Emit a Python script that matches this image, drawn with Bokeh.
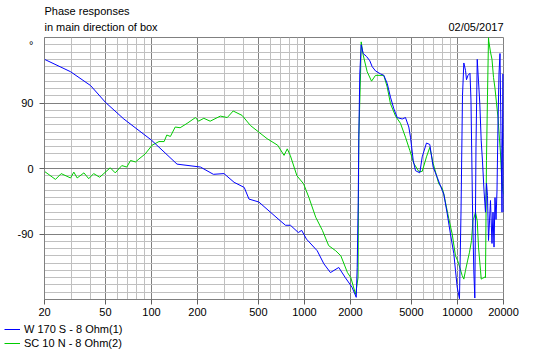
from bokeh.plotting import figure
from bokeh.layouts import column
from bokeh.models import (FixedTicker, CustomJSTickFormatter, Range1d, Label,
                          Legend, LegendItem)
from bokeh.embed import file_html
from bokeh.resources import INLINE

# ---------------- data ----------------
freq_w170 = [20, 29.6, 40, 50, 66, 100, 147, 209, 254, 298, 347, 404, 434, 503,
             696, 752, 810, 912, 959, 1031, 1212, 1340, 1479, 1676, 1850, 2045, 2180,
             2212, 2246, 2266, 2300, 2350, 2420, 2545, 2675, 2770, 2915, 3140, 3300,
             3475, 3650, 3840, 4040, 4355, 4575, 4810, 4935, 5140, 5320, 5675, 5885,
             6275, 6595, 6940, 7370, 7950, 8140, 8570, 9000, 9470, 9710, 9960, 10310,
             10550, 10790, 11010, 11290, 11460, 11720, 12080, 12260, 12540, 12790,
             12990, 13220, 13470, 13730, 14000, 14300, 14580, 14910, 15250, 15480,
             15720, 15960, 16200, 16440, 16820, 17080, 17340, 17600, 17870, 18140,
             18410, 18690, 18970, 19320, 19550, 19850, 20000]
phase_w170 = [150, 133, 114, 91, 68, 39, 6, 2, -8, -7, -19, -26, -42, -46,
              -72, -78, -78, -88, -85, -97, -113, -131, -143, -136, -150, -163, -177,
              -136, -47, 40, 130, 170, 158, 154, 148, 140, 134, 130, 128,
              117, 98, 82, 70, 68, 70, 57, 43, 11, -3, -6, 16,
              35, 33, 2, -12, -30, -35, -62, -90, -117, -140, -163, -179,
              -60, 100, 145, 135, 122, 128, 131, 94, -50, -140,
              -178, 30, 150, 120, 89, 38, 10, -30, -60, -20,
              -37, -99, -72, -44, -103, -60, -108, -40, -70, -30,
              60, 130, 158, 27, -60, 130, -60]

freq_sc10 = [20, 23.6, 25.7, 29.6, 31.1, 32.7, 36.2, 38.9, 41.9, 45.9, 53.8, 58,
             64, 69, 73, 78.7, 82.8, 91, 101, 112, 121, 126, 133, 143, 154, 171,
             194, 203, 220, 242, 282, 313, 342, 391, 444, 503, 570, 668, 736, 772,
             808, 893, 987, 1070, 1185, 1310, 1440, 1600, 1730, 1910, 2010, 2160,
             2240, 2266, 2327, 2350, 2420, 2570, 2745, 2915, 3300, 3475, 3650, 3940,
             4245, 4575, 4880, 5185, 5590, 5885, 6275, 6595, 6940, 7550, 7950,
             8140, 8780, 9240, 9710, 10050, 10740, 11010, 11290, 11640, 11990,
             12360, 12640, 12790, 13120, 13470, 13730, 14150, 14300, 14580, 15140,
             15250, 15480, 15720, 15960, 16030, 16440, 16820, 17210, 17600, 18000,
             18410, 18690, 19120, 19400, 19700, 20000]
phase_sc10 = [-4, -15, -7, -13, -5, -13, -6, -14, -7, -12, 1, -6,
              4, 2, 11, 9, 13, 20, 32, 37, 37, 46, 44, 57, 56, 62,
              70, 65, 69, 65, 72, 70, 79, 73, 59, 50, 41, 32, 18, 27,
              18, -10, -21, -40, -67, -85, -106, -113, -120, -143, -150, -173,
              -150, 43, 130, 174, 156, 133, 120, 128, 128, 112, 89, 72,
              62, 43, 25, 7, -4, -4, 16, 29, 7, -21, -27,
              -35, -69, -90, -120, -127, -147, -152, -140, -127, -115,
              -99, -70, -69, -60, -72, -108, -140, -152, -151, -149,
              -150, 11, 100, 180, 175, 160, 150, 125, 110, 90,
              70, 50, 20, -7, -25, -35]

x_major = [20, 50, 100, 200, 500, 1000, 2000, 5000, 10000, 20000]
x_minor = [30, 40, 60, 70, 80, 90, 300, 400, 600, 700, 800, 900,
           3000, 4000, 6000, 7000, 8000, 9000]
y_major = [-90, 0, 90]
y_minor = [v for v in range(-170, 180, 10) if v not in (-90, 0, 90)]
y_unit_tick = 170
y_unit = "°"

title1 = "Phase responses"
title2 = "in main direction of box"
date_text = "02/05/2017"
name_w170 = "W 170 S - 8 Ohm(1)"
name_sc10 = "SC 10 N - 8 Ohm(2)"

FONT = "Liberation Sans"
BLUE = "#0000ff"
GREEN = "#00cc00"
W = 544


def blank(height, y_max):
    f = figure(width=W, height=height, x_range=Range1d(0, W), y_range=Range1d(y_max, 0),
               output_backend="svg", toolbar_location=None,
               x_axis_location=None, y_axis_location=None,
               min_border=0, min_border_left=0, min_border_right=0,
               min_border_top=0, min_border_bottom=0, frame_align=False)
    f.grid.visible = False
    f.outline_line_color = None
    f.background_fill_color = "white"
    f.border_fill_color = "white"
    return f


# ---------------- header ----------------
head = blank(36, 36)
for txt, x, y, align in ((title1, 44, 10.5, "left"), (title2, 44, 26.5, "left"),
                         (date_text, 503, 26, "right")):
    head.add_layout(Label(x=x, y=y, text=txt, text_font=FONT, text_font_size="11px",
                          text_align=align, text_baseline="middle", text_color="black"))

# ---------------- main chart ----------------
p = figure(width=W, height=286, x_axis_type="log",
           x_range=Range1d(20, 20000), y_range=Range1d(-180, 180),
           output_backend="svg", toolbar_location=None,
           min_border_left=44, min_border_right=41,
           min_border_top=1, min_border_bottom=23, frame_align=False)
p.background_fill_color = "white"
p.border_fill_color = "white"
p.outline_line_color = "#808080"
p.outline_line_width = 1

xa = p.xaxis[0]
xa.ticker = FixedTicker(ticks=x_major, minor_ticks=x_minor)
xa.major_tick_line_color = "#606060"
xa.major_tick_out = 5
xa.major_tick_in = 0
xa.minor_tick_line_color = None
xa.major_label_standoff = 3
xa.formatter = CustomJSTickFormatter(code="return String(Math.round(tick));")

ya = p.yaxis[0]
ya.ticker = FixedTicker(ticks=y_major + [y_unit_tick], minor_ticks=y_major)
ya.major_tick_line_color = None
ya.major_tick_out = 5
ya.major_tick_in = 0
ya.minor_tick_line_color = "#606060"
ya.minor_tick_out = 5
ya.minor_tick_in = 0
ya.major_label_standoff = 6
ya.formatter = CustomJSTickFormatter(args=dict(ut=y_unit_tick, u=y_unit),
                                     code="return tick == ut ? u : String(Math.round(tick));")

for ax in (xa, ya):
    ax.axis_line_color = "#808080"
    ax.major_label_text_font = FONT
    ax.major_label_text_font_size = "11px"
    ax.major_label_text_color = "black"

for g in (p.xgrid[0], p.ygrid[0]):
    g.grid_line_color = "#808080"
    g.grid_line_width = 1
    g.minor_grid_line_color = "#c0c0c0"
    g.minor_grid_line_width = 1
p.xgrid[0].ticker = FixedTicker(ticks=x_major, minor_ticks=x_minor)
p.ygrid[0].ticker = FixedTicker(ticks=y_major, minor_ticks=y_minor)

p.line(freq_sc10, phase_sc10, line_color=GREEN, line_width=1)
p.line(freq_w170, phase_w170, line_color=BLUE, line_width=1)

# ---------------- footer (legend) ----------------
foot = blank(32, 32)
nan = float("nan")
lw = foot.line(x=[nan], y=[nan], line_color=BLUE, line_width=1)
lg = foot.line(x=[nan], y=[nan], line_color=GREEN, line_width=1)
legend = Legend(items=[LegendItem(label=name_w170, renderers=[lw]),
                       LegendItem(label=name_sc10, renderers=[lg])],
                location=(4, 4), orientation="vertical",
                padding=0, margin=0, spacing=0,
                glyph_width=16, glyph_height=14, label_height=14,
                label_standoff=4,
                label_text_font=FONT, label_text_font_size="11px",
                label_text_color="black",
                border_line_color=None, background_fill_alpha=0)
foot.add_layout(legend, "center")

layout = column(head, p, foot, spacing=0)
open("out.html", "w").write(file_html(layout, INLINE))
